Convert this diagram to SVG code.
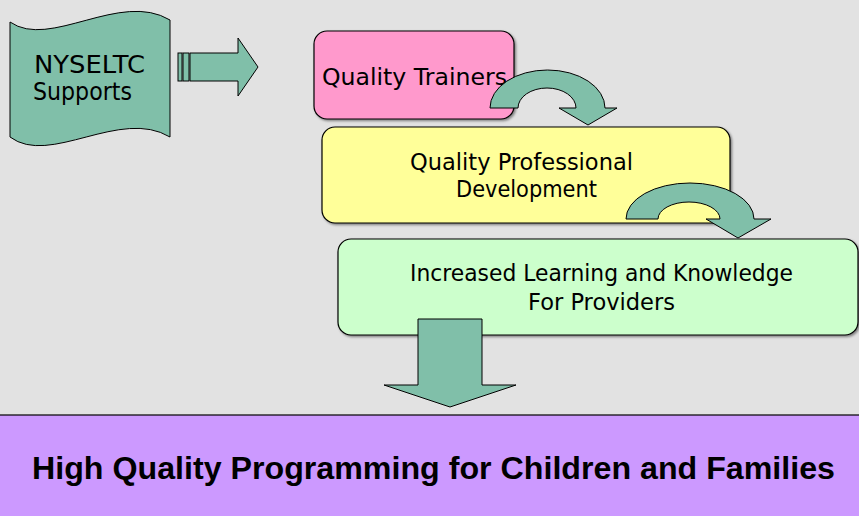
<svg xmlns="http://www.w3.org/2000/svg" width="859" height="516" viewBox="0 0 859 516">
<style>
.box{stroke:#000;stroke-width:1.2}
.arr{fill:#80BFA9;stroke:#000;stroke-width:1}
.t{font-family:"DejaVu Sans","Liberation Sans",sans-serif;fill:#000}
.b{font-family:"Liberation Sans","DejaVu Sans",sans-serif;font-weight:bold;fill:#000}
</style>
<defs>
<filter id="sh" x="-5%" y="-5%" width="110%" height="115%">
<feDropShadow dx="1.5" dy="1.5" stdDeviation="0.8" flood-color="#000" flood-opacity="0.45"/>
</filter>
</defs>
<rect x="0" y="0" width="859" height="516" fill="#e2e2e2"/>

<g id="nyseltc">
<path class="arr" d="M10,22 C50,50 120,-10 170,20 L170,137 C120,107 50,167 10,137 Z"/>
<text class="t" x="34" y="73" font-size="25" textLength="111" lengthAdjust="spacingAndGlyphs">NYSELTC</text>
<text class="t" x="33" y="100" font-size="25" textLength="99" lengthAdjust="spacingAndGlyphs">Supports</text>
</g>

<g id="trainers">
<rect class="box" x="314" y="31" width="200" height="88" rx="13" fill="#FF99CC" filter="url(#sh)"/>
<text class="t" x="322" y="85" font-size="23" textLength="185" lengthAdjust="spacingAndGlyphs">Quality Trainers</text>
</g>

<g id="profdev">
<rect class="box" x="322" y="127" width="408" height="96" rx="13" fill="#FFFF99" filter="url(#sh)"/>
<text class="t" x="410" y="170" font-size="23" textLength="223" lengthAdjust="spacingAndGlyphs">Quality Professional</text>
<text class="t" x="456" y="197" font-size="23" textLength="141" lengthAdjust="spacingAndGlyphs">Development</text>
</g>

<g id="learning">
<rect class="box" x="338" y="239" width="520" height="96" rx="13" fill="#CCFFCC" filter="url(#sh)"/>
<text class="t" x="410" y="281" font-size="23" textLength="383" lengthAdjust="spacingAndGlyphs">Increased Learning and Knowledge</text>
<text class="t" x="528" y="310" font-size="23" textLength="147" lengthAdjust="spacingAndGlyphs">For Providers</text>
</g>

<g id="outcome">
<rect x="-1" y="415" width="861" height="102" fill="#CC99FF" stroke="#000" stroke-width="1.2"/>
<text class="b" x="32" y="479" font-size="31" textLength="803" lengthAdjust="spacingAndGlyphs">High Quality Programming for Children and Families</text>
</g>

<g id="connectors">
<rect class="arr" x="178" y="53" width="4" height="28"/>
<rect class="arr" x="183" y="53" width="6" height="28"/>
<path class="arr" d="M190,53 L238,53 L238,38 L258,67 L238,96 L238,81 L190,81 Z"/>
<path class="arr" d="M490,108 A57.5,38 0 0 1 605,108 L617,108 L588,125 L559,108 L576,108 A29,20 0 0 0 518,108 Z"/>
<path class="arr" d="M626,219 A64,36 0 0 1 754,219 L771,219 L738,238 L706,219 L720,219 A31,17 0 0 0 658,219 Z"/>
<path class="arr" d="M418,319 L482,319 L482,385 L516,385 L450,407 L384,385 L418,385 Z"/>
</g>
</svg>
